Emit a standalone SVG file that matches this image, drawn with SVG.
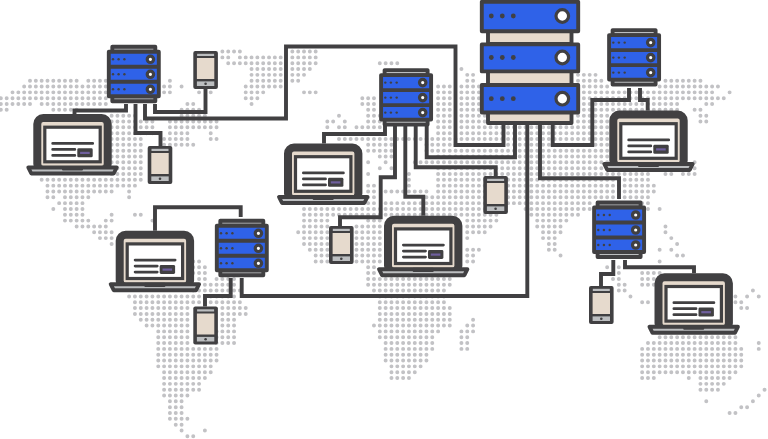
<svg xmlns="http://www.w3.org/2000/svg" width="768" height="439" viewBox="0 0 768 439">
<style>
.map path{fill:none;stroke:#c2c2c5;stroke-width:.68;stroke-linecap:round;stroke-dasharray:0 1}
.c path{fill:none;stroke:#414042;stroke-width:3.9;stroke-linejoin:miter}
.k{stroke:#414042;stroke-width:3.9;stroke-linejoin:round}
.d{fill:#414042}.b{fill:#2f62e8}.g{fill:#bcbec0}.e{fill:#e6dacd}.w{fill:#fff}
</style>
<defs>
<g id="srv">
<rect class="k g" x="3.5" y="-5" width="43" height="5"/>
<rect class="k g" x="3.5" y="44.5" width="43" height="5"/>
<rect class="k b" x="0" y="0" width="50" height="44.5"/>
<path class="k" d="M0 15H50M0 30H50" fill="none"/>
<g class="d"><circle cx="4.2" cy="7.5" r="1.2"/><circle cx="9.8" cy="7.5" r="1.2"/><circle cx="15.6" cy="7.5" r="1.2"/><circle cx="4.2" cy="22.5" r="1.2"/><circle cx="9.8" cy="22.5" r="1.2"/><circle cx="15.6" cy="22.5" r="1.2"/><circle cx="4.2" cy="37.5" r="1.2"/><circle cx="9.8" cy="37.5" r="1.2"/><circle cx="15.6" cy="37.5" r="1.2"/></g>
<g class="w" stroke="#414042" stroke-width="3.2"><circle cx="41.6" cy="7.5" r="3.2"/><circle cx="41.6" cy="22.5" r="3.2"/><circle cx="41.6" cy="37.5" r="3.2"/></g>
</g>
<g id="lap">
<rect class="e" x="4" y="4" width="70.4" height="52" rx="6" stroke="#414042" stroke-width="8"/>
<rect class="w" x="11.5" y="13.2" width="55.4" height="34.6" stroke="#414042" stroke-width="3.2"/>
<path d="M19.4 29.4H59.4M19.4 35.4H41.5M19.4 41.4H41.5" fill="none" stroke="#414042" stroke-width="2.8" stroke-linecap="round"/>
<rect class="d" x="44" y="34.3" width="15.4" height="9" rx="1.4"/>
<rect x="46.8" y="37.8" width="9.6" height="2.2" fill="#6f5f9e"/>
<path class="k g" d="M-5 53.5H83.4L80.4 59.5H-2Z"/>
<rect class="d" x="28.7" y="52" width="21" height="4.4" rx="1"/>
</g>
<g id="ph">
<rect class="d" x="0" y="0" width="24.6" height="38" rx="2"/>
<rect class="g" x="3.8" y="2.8" width="17" height="2.2"/>
<rect class="e" x="3.6" y="7" width="17.4" height="21"/>
<rect class="g" x="3.6" y="30.4" width="17.4" height="4.6"/>
<circle class="d" cx="12.3" cy="32.8" r="1.3"/>
</g>
</defs>
<rect width="768" height="439" fill="#fff"/>
<g class="map" transform="translate(30 80.7) scale(5.83)">
<path d="M33 -5H36.01M45 -5H49.01"/>
<path d="M33 -4H34.01M36 -4H43.01M45 -4H49.01"/>
<path d="M34 -3H43.01M45 -3H49.01M60 -3H63.01"/>
<path d="M38 -2H43.01M45 -2H48.01M74 -2h.01"/>
<path d="M38 -1H43.01M45 -1H47.01M75 -1H76.01M94 -1H97.01"/>
<path d="M0 0H8.01M10 0H13.01M24 0h.01M38 0H43.01M45 0H46.01M75 0H76.01M94 0H98.01M109 0H115.01"/>
<path d="M-1 1H13.01M23 1H24.01M26 1h.01M37 1H43.01M70 1H72.01M74 1H78.01M94 1H99.01M108 1H118.01"/>
<path d="M-3 2H13.01M23 2H24.01M29 2h.01M31 2h.01M37 2H40.01M47 2H49.01M70 2H72.01M74 2H78.01M94 2H117.01M120 2h.01"/>
<path d="M-5 3H13.01M37 3H39.01M57 3H59.01M70 3H72.01M74 3H78.01M94 3H119.01"/>
<path d="M-5 4H0.01M2 4H13.01M27 4H28.01M38 4h.01M57 4H59.01M70 4H72.01M74 4H78.01M94 4H111.01M116 4H117.01"/>
<path d="M-5 5H-3.99M4 5H8.01M26 5H29.01M58 5H59.01M70 5H72.01M74 5H78.01M94 5H111.01M114 5H115.01"/>
<path d="M14 6H18.01M26 6H30.01M53 6h.01M58 6H60.01M70 6H72.01M74 6H78.01M94 6H99.01M115 6H116.01"/>
<path d="M14 7H21.01M24 7H32.01M51 7H52.01M54 7h.01M58 7H60.01M70 7H72.01M74 7H78.01M94 7H99.01M115 7H116.01"/>
<path d="M14 8H21.01M24 8H32.01M51 8h.01M53 8H54.01M56 8H60.01M70 8H72.01M74 8H99.01"/>
<path d="M14 9H22.01M24 9H27.01M31 9h.01M70 9H72.01M74 9H99.01"/>
<path d="M14 10H19.01M23 10H27.01M31 10H32.01M53 10H99.01"/>
<path d="M14 11H19.01M23 11H28.01M58 11H62.01M68 11H99.01"/>
<path d="M14 12H19.01M58 12H62.01M68 12H99.01"/>
<path d="M14 13H19.01M60 13H62.01M70 13H99.01"/>
<path d="M14 14H19.01M58 14h.01M61 14h.01M66 14H99.01M114 14h.01"/>
<path d="M14 15H19.01M60 15h.01M62 15h.01M70 15H99.01M114 15h.01"/>
<path d="M14 16H19.01M58 16h.01M65 16h.01M70 16H106.01M109 16H110.01M112 16H114.01"/>
<path d="M2 17H19.01M65 17h.01M70 17H106.01"/>
<path d="M3 18H18.01M58 18H59.01M65 18h.01M70 18H107.01"/>
<path d="M3 19H14.01M17 19h.01M58 19H59.01M61 19H68.01M70 19H107.01"/>
<path d="M3 20H4.01M6 20H10.01M17 20h.01M58 20H59.01M68 20H106.01"/>
<path d="M5 21H9.01M58 21H59.01M61 21H96.01M105 21H106.01"/>
<path d="M4 22h.01M6 22H9.01M47 22H81.01M85 22H96.01M105 22H106.01M108 22h.01"/>
<path d="M6 23H9.01M14 23h.01M18 23H19.01M47 23H80.01M86 23H94.01"/>
<path d="M6 24H10.01M13 24H14.01M21 24h.01M47 24H51.01M58 24H60.01M75 24H80.01M87 24H92.01"/>
<path d="M8 25H13.01M47 25H51.01M56 25H60.01M75 25H79.01M87 25H91.01M109 25h.01"/>
<path d="M11 26H14.01M46 26H51.01M56 26H60.01M75 26H78.01M88 26H91.01M109 26h.01"/>
<path d="M12 27H14.01M47 27H51.01M56 27H60.01M75 27h.01M88 27H90.01M110 27h.01"/>
<path d="M14 28h.01M47 28H51.01M56 28H60.01M89 28H90.01M111 28h.01"/>
<path d="M48 29H51.01M56 29H60.01M75 29H77.01M89 29H90.01M108 29h.01M110 29h.01"/>
<path d="M49 30H51.01M56 30H60.01M75 30H76.01M91 30h.01M111 30H112.01"/>
<path d="M28 31H29.01M49 31H51.01M56 31H60.01M75 31H76.01M108 31h.01"/>
<path d="M28 32H30.01M58 32H59.01M99 32h.01M101 32h.01"/>
<path d="M28 33H30.01M58 33H59.01M101 33h.01M105 33H108.01"/>
<path d="M29 34H30.01M32 34H35.01M58 34H72.01M100 34H101.01M105 34H107.01"/>
<path d="M30 35H35.01M58 35H72.01M101 35H102.01M105 35H107.01"/>
<path d="M28 36H36.01M59 36H71.01M101 36H102.01M124 36h.01"/>
<path d="M17 37H35.01M60 37H71.01M103 37h.01M121 37h.01M123 37h.01M125 37h.01"/>
<path d="M18 38H36.01M60 38H71.01M105 38H106.01M121 38H122.01"/>
<path d="M18 39H27.01M33 39H37.01M60 39H72.01M122 39H123.01"/>
<path d="M18 40H27.01M33 40H37.01M60 40H72.01"/>
<path d="M19 41H27.01M33 41H35.01M60 41H72.01M76 41h.01"/>
<path d="M20 42H27.01M33 42H35.01M59 42H72.01M75 42H76.01"/>
<path d="M22 43H27.01M32 43H35.01M60 43H70.01M74 43H76.01"/>
<path d="M22 44H27.01M32 44H35.01M60 44H69.01M74 44H75.01M108 44H121.01"/>
<path d="M22 45H27.01M32 45H35.01M61 45H69.01M74 45H75.01M106 45H121.01M125 45h.01"/>
<path d="M22 46H32.01M61 46H69.01M74 46H75.01M105 46H122.01M125 46h.01"/>
<path d="M22 47H32.01M61 47H68.01M105 47H122.01"/>
<path d="M22 48H32.01M61 48H68.01M105 48H122.01"/>
<path d="M22 49H31.01M62 49H67.01M105 49H122.01"/>
<path d="M23 50H31.01M62 50H66.01M105 50H121.01"/>
<path d="M23 51H30.01M62 51H65.01M105 51H107.01M113 51h.01M115 51H120.01"/>
<path d="M23 52H29.01M115 52H119.01"/>
<path d="M23 53H29.01M115 53H118.01M126 53h.01"/>
<path d="M23 54H27.01M125 54h.01"/>
<path d="M24 55H26.01M116 55h.01M124 55h.01"/>
<path d="M24 56H26.01M122 56H123.01"/>
<path d="M24 57H26.01M120 57H121.01"/>
<path d="M24 58H27.01"/>
<path d="M25 59H26.01"/>
<path d="M26 60h.01M30 60h.01"/>
<path d="M27 61H28.01"/>
</g>
<g id="connectors" class="c">
<path d="M74.5 114V110.5H126V104"/>
<path d="M135.5 104V133H160.5V146"/>
<path d="M145 104V118.5H286V46.5H455.5V145H503.5V124"/>
<path d="M155 104V112H205.5V89"/>
<path d="M324 143.5V134H385V124"/>
<path d="M395 124V177.3H380.7V217.3H340V226"/>
<path d="M405.3 124V196.7H423.3V215.7"/>
<path d="M415.7 124V167.3H495.7V176"/>
<path d="M426.7 124V157.3H515V124"/>
<path d="M527.3 124V296H241.7V278"/>
<path d="M540 124V178.3H619V199"/>
<path d="M552.7 124V145H592.3V100H629V88"/>
<path d="M640 88V100H647.7V110.5"/>
<path d="M155 230.7V207.3H240.7V217"/>
<path d="M230.7 278V296H205V306.5"/>
<path d="M613.3 260V274H601V286"/>
<path d="M625 260V267.3H694V273.3"/>
</g>
<g id="server-main">
<g class="k e"><rect x="488" y="30" width="83.5" height="14"/><rect x="488" y="71" width="83.5" height="14"/><rect x="488" y="112" width="83.5" height="11"/></g>
<g class="k b"><rect x="481.8" y="1.8" width="96.4" height="29.4"/><rect x="481.8" y="44.4" width="96.4" height="27"/><rect x="481.8" y="85" width="96.4" height="27.5"/></g>
<g class="d"><circle cx="491.3" cy="16" r="2.4"/><circle cx="502.3" cy="16" r="2.4"/><circle cx="513.3" cy="16" r="2.4"/><circle cx="491.3" cy="57.5" r="2.4"/><circle cx="502.3" cy="57.5" r="2.4"/><circle cx="513.3" cy="57.5" r="2.4"/><circle cx="491.3" cy="98.7" r="2.4"/><circle cx="502.3" cy="98.7" r="2.4"/><circle cx="513.3" cy="98.7" r="2.4"/></g>
<g class="w" stroke="#414042" stroke-width="3.2"><circle cx="562.3" cy="16" r="6.3"/><circle cx="562.3" cy="57.5" r="6.3"/><circle cx="562.3" cy="98.7" r="6.3"/></g>
</g>
<g id="server-1" transform="translate(108.8 51.8)"><use href="#srv"/></g>
<g id="server-2" transform="translate(381.1 75.1)"><use href="#srv"/></g>
<g id="server-3" transform="translate(609.1 35.1)"><use href="#srv"/></g>
<g id="server-4" transform="translate(216.8 225.8)"><use href="#srv"/></g>
<g id="server-5" transform="translate(594.1 207.5)"><use href="#srv"/></g>
<g id="laptop-1" transform="translate(33.3 114)"><use href="#lap"/></g>
<g id="laptop-2" transform="translate(284 143.5)"><use href="#lap"/></g>
<g id="laptop-3" transform="translate(384 215.7)"><use href="#lap"/></g>
<g id="laptop-4" transform="translate(609.3 110.5)"><use href="#lap"/></g>
<g id="laptop-5" transform="translate(115.7 230.7)"><use href="#lap"/></g>
<g id="laptop-6" transform="translate(654.5 273.3)"><use href="#lap"/></g>
<g id="phone-1" transform="translate(193.3 51)"><use href="#ph"/></g>
<g id="phone-2" transform="translate(147.7 146)"><use href="#ph"/></g>
<g id="phone-3" transform="translate(483.3 176)"><use href="#ph"/></g>
<g id="phone-4" transform="translate(329 226)"><use href="#ph"/></g>
<g id="phone-5" transform="translate(193.3 306.5)"><use href="#ph"/></g>
<g id="phone-6" transform="translate(589 286)"><use href="#ph"/></g>
</svg>
